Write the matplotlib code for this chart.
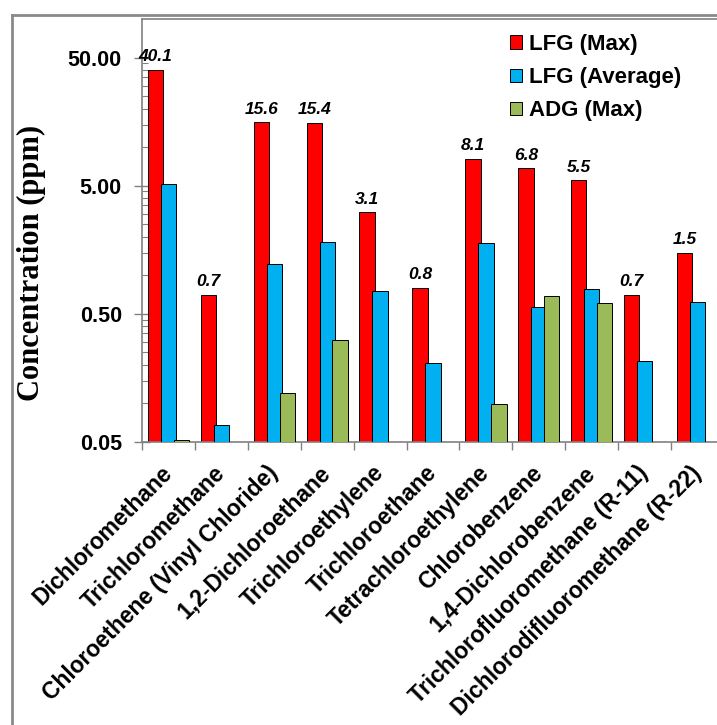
import matplotlib
matplotlib.use("Agg")
import matplotlib.pyplot as plt
import numpy as np
from matplotlib.lines import Line2D
from matplotlib.ticker import FixedLocator, NullFormatter

categories = ["Dichloromethane", "Trichloromethane", "Chloroethene (Vinyl Chloride)",
              "1,2-Dichloroethane", "Trichloroethylene", "Trichloroethane",
              "Tetrachloroethylene", "Chlorobenzene", "1,4-Dichlorobenzene",
              "Trichlorofluoromethane (R-11)", "Dichlorodifluoromethane (R-22)"]
lfg_max = [40.1, 0.7, 15.6, 15.4, 3.1, 0.8, 8.1, 6.8, 5.5, 0.7, 1.5]
lfg_avg = [5.1, 0.067, 1.22, 1.8, 0.75, 0.207, 1.78, 0.56, 0.78, 0.215, 0.62]
adg_max = [0.052, None, 0.12, 0.31, None, None, 0.099, 0.69, 0.61, None, None]
max_labels = ["40.1", "0.7", "15.6", "15.4", "3.1", "0.8", "8.1", "6.8", "5.5", "0.7", "1.5"]
ytick_vals = [0.05, 0.5, 5, 50]
ytick_labels = ["0.05", "0.50", "5.00", "50.00"]

W, H = 717, 725
fig = plt.figure(figsize=(W / 100, H / 100), dpi=100)
fig.patch.set_facecolor("white")

ax_left, ax_right, ax_top, ax_bot = 142, 724, 19, 441.7
ax = fig.add_axes([ax_left / W, (H - ax_bot) / H, (ax_right - ax_left) / W, (ax_bot - ax_top) / H])

sans = "Liberation Sans"
x = np.arange(len(categories))
off = 0.245
bw = 0.29
ec = "black"
lw = 0.7

ax.bar(x - off, lfg_max, width=bw, color="#FF0000", edgecolor=ec, linewidth=lw, label="LFG (Max)", zorder=2)
ax.bar(x, lfg_avg, width=bw, color="#00B0F0", edgecolor=ec, linewidth=lw, label="LFG (Average)", zorder=3)
gx = [xi + off for xi, v in zip(x, adg_max) if v is not None]
gv = [v for v in adg_max if v is not None]
ax.bar(gx, gv, width=bw, color="#9BBB59", edgecolor=ec, linewidth=lw, label="ADG (Max)", zorder=4)

for xi, v, lab in zip(x, lfg_max, max_labels):
    ax.annotate(lab, (xi - off, v), xytext=(0, 4), textcoords="offset points",
                ha="center", va="bottom", fontsize=12.5, fontweight="bold",
                fontstyle="italic", family=sans, zorder=5)

ax.set_yscale("log")
ax.set_ylim(0.05, 100)
ax.set_xlim(-0.5, len(categories) - 0.5)

ax.set_yticks(ytick_vals)
ax.set_yticklabels(ytick_labels)
minor = [m * 0.05 * 10 ** k for k in range(3) for m in range(2, 10)]
ax.yaxis.set_minor_locator(FixedLocator(minor))
ax.yaxis.set_minor_formatter(NullFormatter())
ax.tick_params(axis="y", which="major", direction="inout", length=11, width=1,
               color="#808080", pad=9)
ax.tick_params(axis="y", which="minor", direction="in", length=4, width=0.8, color="#808080")
for lab in ax.get_yticklabels():
    lab.set_fontsize(15.5)
    lab.set_fontweight("bold")
    lab.set_family(sans)

ax.set_xticks(x)
ax.set_xticklabels(categories, rotation=45, ha="right", va="center", rotation_mode="anchor")
ax.xaxis.set_minor_locator(FixedLocator(np.arange(-0.5, len(categories), 1.0)))
ax.tick_params(axis="x", which="major", length=0, pad=20)
ax.tick_params(axis="x", which="minor", direction="out", length=6, width=1, color="#808080")
for lab in ax.get_xticklabels():
    lab.set_fontsize(16.5)
    lab.set_fontweight("bold")
    lab.set_family(sans)

for s in ["left", "top", "bottom", "right"]:
    ax.spines[s].set_color("#808080")
    ax.spines[s].set_linewidth(1.2)

ax.set_ylabel("Concentration (ppm)", family="Liberation Serif", fontweight="bold", fontsize=22)
ax.yaxis.set_label_coords((31 - ax_left) / (ax_right - ax_left), (ax_bot - 263) / (ax_bot - ax_top))
ax.yaxis.label.set_va("center")

leg = ax.legend(loc="upper left", bbox_to_anchor=(510 / W, (H - 34) / H), bbox_transform=fig.transFigure,
                frameon=False, prop={"family": sans, "weight": "bold", "size": 16},
                handlelength=0.55, handleheight=0.55, handletextpad=0.3, labelspacing=0.55,
                borderpad=0, borderaxespad=0)

# outer frame lines (left and top)
fig.add_artist(Line2D([12 / W, 12 / W], [0, (H - 15) / H], transform=fig.transFigure, color="#8a8a8a", lw=2))
fig.add_artist(Line2D([12 / W, 1], [(H - 15) / H, (H - 15) / H], transform=fig.transFigure, color="#8a8a8a", lw=2))

fig.savefig("out.png", dpi=100)
